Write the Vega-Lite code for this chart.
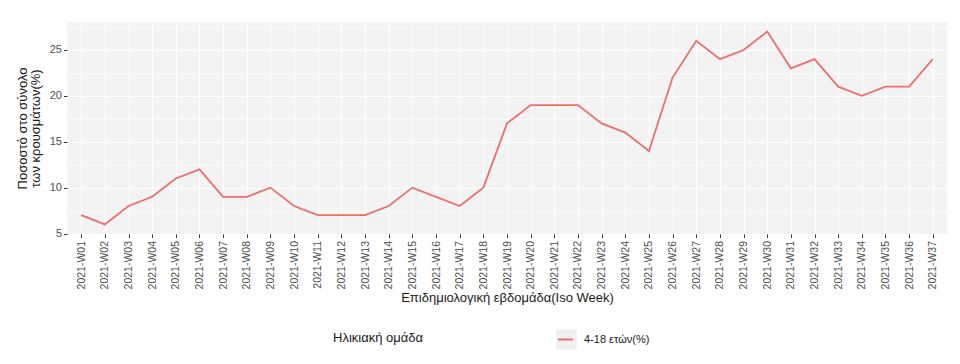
{
  "$schema": "https://vega.github.io/schema/vega-lite/v6.json",
  "width": 880,
  "height": 212,
  "autosize": {"type": "none"},
  "padding": {"left": 67, "top": 22, "right": 13, "bottom": 130},
  "background": "white",
  "config": {
    "font": "Liberation Sans",
    "view": {"fill": "#F3F3F3", "stroke": null}
  },
  "data": {
    "values": [
      {"week": "2021-W01", "pct": 7, "group": "4-18 ετών(%)"},
      {"week": "2021-W02", "pct": 6, "group": "4-18 ετών(%)"},
      {"week": "2021-W03", "pct": 8, "group": "4-18 ετών(%)"},
      {"week": "2021-W04", "pct": 9, "group": "4-18 ετών(%)"},
      {"week": "2021-W05", "pct": 11, "group": "4-18 ετών(%)"},
      {"week": "2021-W06", "pct": 12, "group": "4-18 ετών(%)"},
      {"week": "2021-W07", "pct": 9, "group": "4-18 ετών(%)"},
      {"week": "2021-W08", "pct": 9, "group": "4-18 ετών(%)"},
      {"week": "2021-W09", "pct": 10, "group": "4-18 ετών(%)"},
      {"week": "2021-W10", "pct": 8, "group": "4-18 ετών(%)"},
      {"week": "2021-W11", "pct": 7, "group": "4-18 ετών(%)"},
      {"week": "2021-W12", "pct": 7, "group": "4-18 ετών(%)"},
      {"week": "2021-W13", "pct": 7, "group": "4-18 ετών(%)"},
      {"week": "2021-W14", "pct": 8, "group": "4-18 ετών(%)"},
      {"week": "2021-W15", "pct": 10, "group": "4-18 ετών(%)"},
      {"week": "2021-W16", "pct": 9, "group": "4-18 ετών(%)"},
      {"week": "2021-W17", "pct": 8, "group": "4-18 ετών(%)"},
      {"week": "2021-W18", "pct": 10, "group": "4-18 ετών(%)"},
      {"week": "2021-W19", "pct": 17, "group": "4-18 ετών(%)"},
      {"week": "2021-W20", "pct": 19, "group": "4-18 ετών(%)"},
      {"week": "2021-W21", "pct": 19, "group": "4-18 ετών(%)"},
      {"week": "2021-W22", "pct": 19, "group": "4-18 ετών(%)"},
      {"week": "2021-W23", "pct": 17, "group": "4-18 ετών(%)"},
      {"week": "2021-W24", "pct": 16, "group": "4-18 ετών(%)"},
      {"week": "2021-W25", "pct": 14, "group": "4-18 ετών(%)"},
      {"week": "2021-W26", "pct": 22, "group": "4-18 ετών(%)"},
      {"week": "2021-W27", "pct": 26, "group": "4-18 ετών(%)"},
      {"week": "2021-W28", "pct": 24, "group": "4-18 ετών(%)"},
      {"week": "2021-W29", "pct": 25, "group": "4-18 ετών(%)"},
      {"week": "2021-W30", "pct": 27, "group": "4-18 ετών(%)"},
      {"week": "2021-W31", "pct": 23, "group": "4-18 ετών(%)"},
      {"week": "2021-W32", "pct": 24, "group": "4-18 ετών(%)"},
      {"week": "2021-W33", "pct": 21, "group": "4-18 ετών(%)"},
      {"week": "2021-W34", "pct": 20, "group": "4-18 ετών(%)"},
      {"week": "2021-W35", "pct": 21, "group": "4-18 ετών(%)"},
      {"week": "2021-W36", "pct": 21, "group": "4-18 ετών(%)"},
      {"week": "2021-W37", "pct": 24, "group": "4-18 ετών(%)"}
    ]
  },
  "encoding": {
    "x": {
      "field": "week",
      "type": "ordinal",
      "scale": {"type": "point", "padding": 0.6},
      "axis": {
        "title": "Επιδημιολογική εβδομάδα(Iso Week)",
        "titleFontSize": 13,
        "titleFontWeight": "normal",
        "titleColor": "#1a1a1a",
        "titlePadding": 3,
        "labelAngle": 270,
        "labelAlign": "right",
        "labelBaseline": "middle",
        "labelFontSize": 10.5,
        "labelColor": "#4d4d4d",
        "labelPadding": 3,
        "tickColor": "#333333",
        "tickSize": 3.5,
        "domain": false,
        "grid": true,
        "gridColor": "white",
        "gridWidth": 1.1
      }
    },
    "y": {
      "field": "pct",
      "type": "quantitative",
      "scale": {"domain": [4.95, 28.05], "nice": false, "zero": false},
      "axis": {
        "title": ["Ποσοστό στο σύνολο", "των κρουσμάτων(%)"],
        "titleFontSize": 13,
        "titleFontWeight": "normal",
        "titleColor": "#1a1a1a",
        "titlePadding": 7,
        "titleLineHeight": 13,
        "values": [5, 7.5, 10, 12.5, 15, 17.5, 20, 22.5, 25, 27.5],
        "labelExpr": "datum.value % 5 === 0 ? datum.label : ''",
        "labelFontSize": 11,
        "labelColor": "#4d4d4d",
        "labelPadding": 2,
        "tickColor": "#333333",
        "tickSize": 3.5,
        "tickOpacity": {"condition": {"test": "datum.value % 5 === 0", "value": 1}, "value": 0},
        "domain": false,
        "grid": true,
        "gridColor": "white",
        "gridWidth": {"condition": {"test": "datum.value % 5 === 0", "value": 1.1}, "value": 0.55}
      }
    }
  },
  "layer": [
    {
      "mark": {"type": "point", "shape": "square", "opacity": 0, "filled": true},
      "encoding": {
        "fill": {
          "field": "group",
          "type": "nominal",
          "scale": {"range": ["#F0F0F0"]},
          "legend": {
            "title": null,
            "orient": "none",
            "legendX": 489,
            "legendY": 307,
            "symbolType": "square",
            "symbolSize": 420,
            "symbolStrokeWidth": 0,
            "symbolOpacity": 1,
            "labelExpr": "''",
            "labelFontSize": 11
          }
        }
      }
    },
    {
      "mark": {"type": "line", "strokeWidth": 1.8},
      "encoding": {
        "color": {
          "field": "group",
          "type": "nominal",
          "scale": {"range": ["#EE6E6C"]},
          "legend": {
            "title": "Ηλικιακή ομάδα",
            "orient": "none",
            "legendX": 266,
            "legendY": 309,
            "direction": "horizontal",
            "titleOrient": "left",
            "titleFontSize": 13,
            "titleFontWeight": "normal",
            "titleColor": "#1a1a1a",
            "titlePadding": 133,
            "symbolType": "stroke",
            "symbolSize": 225,
            "symbolStrokeWidth": 2,
            "labelFontSize": 11,
            "labelColor": "#1a1a1a",
            "labelOffset": 10
          }
        }
      }
    }
  ]
}
